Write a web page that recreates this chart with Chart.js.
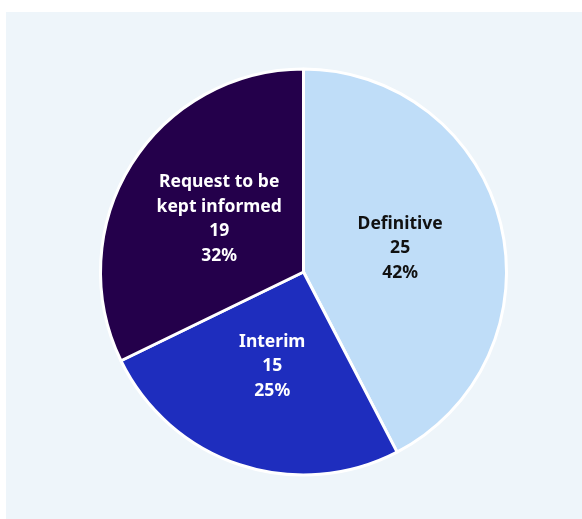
<!DOCTYPE html>
<html>
<head>
<meta charset="utf-8">
<script src="https://cdn.jsdelivr.net/npm/chart.js@4.4.1/dist/chart.umd.min.js"></script>
<style>
  html, body { margin: 0; padding: 0; background: #ffffff; }
  .panel {
    position: absolute;
    left: 6px;
    top: 12px;
    width: 576px;
    height: 507px;
    background: #eef5fa;
  }
</style>
</head>
<body>
<div class="panel">
  <canvas id="responseChart" width="576" height="507"></canvas>
</div>
<script>
const categories = ['Definitive', 'Interim', 'Request to be kept informed'];
const labelLines = [['Definitive'], ['Interim'], ['Request to be', 'kept informed']];
const counts = [25, 15, 19];
const percents = ['42%', '25%', '32%'];
const sliceColors = ['#bfddf8', '#1e2dbe', '#24004b'];
const textColors = ['#111111', '#ffffff', '#ffffff'];

// writes name, count and share inside each slice
const sliceLabels = {
    id: 'sliceLabels',
    afterDatasetsDraw(chart) {
        const ctx = chart.ctx;
        const arcs = chart.getDatasetMeta(0).data;
        ctx.save();
        ctx.font = 'bold 17.5px "Noto Sans", "Open Sans", sans-serif';
        ctx.textAlign = 'center';
        ctx.textBaseline = 'middle';
        arcs.forEach(function(arc, i) {
            const mid = (arc.startAngle + arc.endAngle) / 2;
            const r = arc.outerRadius * 0.49;
            const cx = arc.x + Math.cos(mid) * r;
            const cy = arc.y + Math.sin(mid) * r;
            const lines = labelLines[i].concat([String(counts[i]), percents[i]]);
            const lh = 24.5;
            const top = cy - (lines.length - 1) * lh / 2;
            ctx.fillStyle = textColors[i];
            lines.forEach(function(line, j) {
                ctx.fillText(line, cx, top + j * lh);
            });
        });
        ctx.restore();
    }
};

document.addEventListener('DOMContentLoaded', function() {
    const ctx = document.getElementById('responseChart').getContext('2d');
    new Chart(ctx, {
        type: 'pie',
        data: {
            labels: categories,
            datasets: [{
                data: counts,
                backgroundColor: sliceColors,
                borderColor: '#ffffff',
                borderWidth: 3
            }]
        },
        options: {
            responsive: false,
            animation: false,
            layout: {
                padding: { left: 93, right: 74, top: 55, bottom: 42 }
            },
            plugins: {
                legend: { display: false },
                tooltip: { enabled: false }
            }
        },
        plugins: [sliceLabels]
    });
});
</script>
</body>
</html>
